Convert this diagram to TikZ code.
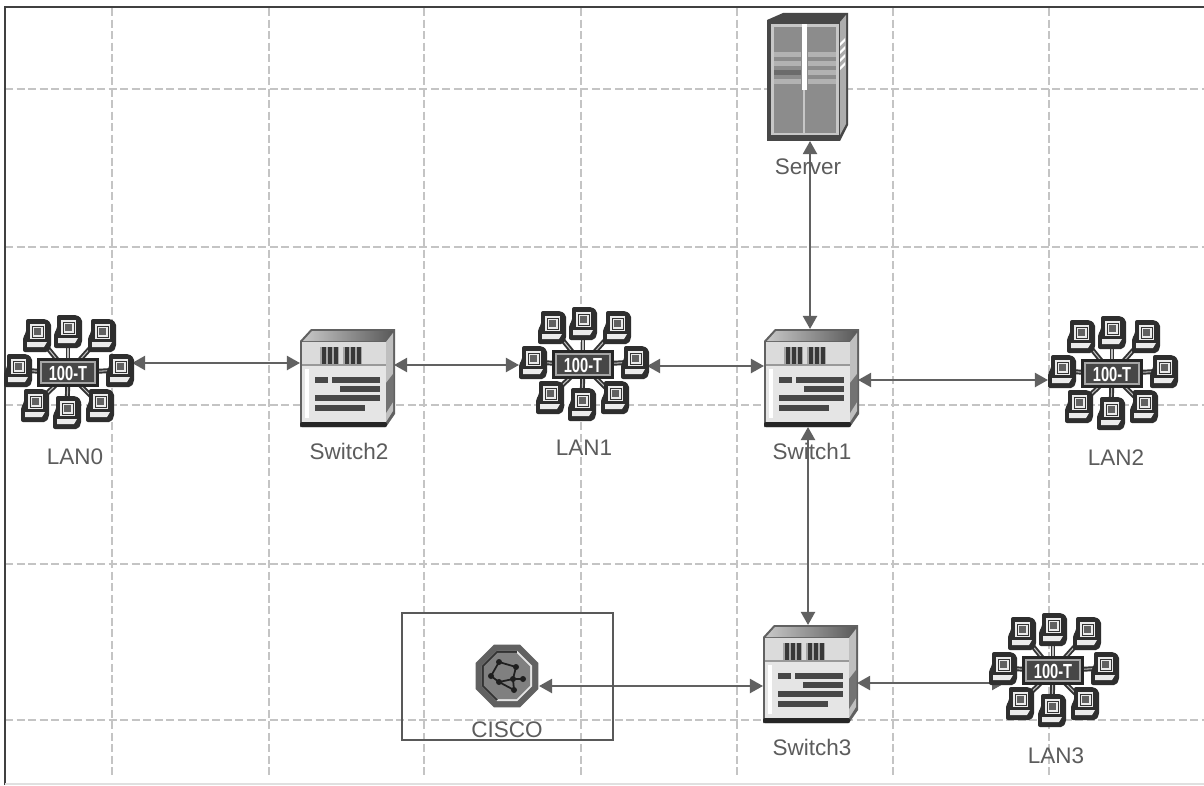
\documentclass[tikz,border=0pt]{standalone}
\usepackage{fontspec}
\setmainfont{Liberation Sans}
\usepackage{xcolor}
\usetikzlibrary{arrows.meta, calc}
\definecolor{gridgray}{gray}{0.77}
\definecolor{linegray}{gray}{0.38}
\definecolor{textgray}{gray}{0.36}
\tikzset{
    device/.style={inner sep=0pt, outer sep=0pt},
    lanbox/.style={device, minimum width=1.28cm, minimum height=1.00cm},
    switchbox/.style={device, minimum width=0.94cm, minimum height=0.98cm},
    serverbox/.style={device, minimum width=0.81cm, minimum height=1.28cm},
    routerbox/.style={device, minimum width=0.64cm, minimum height=0.64cm},
    devicelabel/.style={inner sep=0pt, text=textgray, font=\fontsize{6.4}{7}\selectfont},
    link/.style={draw=linegray, line width=0.6pt, {Triangle[length=0.13cm, width=0.14cm]}-{Triangle[length=0.13cm, width=0.14cm]}},
    gridline/.style={draw=gridgray, line width=0.4pt, dash pattern=on 0.08cm off 0.035cm},
    lanicon/.pic={
        % Spokes
        \foreach \dx/\dy in {-31/-38,0/-42,34/-38,-50/-3,52/-3,-33/32,-1/39,32/32} {
            \draw[black!80, line width=1.4pt] (0,0) -- (\dx,\dy);
            \draw[black!25, line width=0.3pt] (0,0) -- (\dx,\dy);
        }
        % Eight computers
        \foreach \dx/\dy in {-31/-38,0/-42,34/-38,-50/-3,52/-3,-33/32,-1/39,32/32} {
            \begin{scope}[shift={(\dx,\dy)}]
                \fill[black!82, rounded corners=0.02cm] (-11,-16) -- (9,-16) -- (14,-12) -- (14,12) -- (11,17) -- (-14,17) -- (-14,2) -- (-11,-2) -- cycle;
                \fill[black!8] (-7,-11) rectangle (8,4);
                \fill[black!62] (-3,-7) rectangle (4,0);
                \draw[black!80, line width=0.25pt] (-5,-9) rectangle (6,2);
                \fill[black!8] (-10,7) -- (10,7) -- (7,12) -- (-10,12) -- cycle;
            \end{scope}
        }
        % Hub
        \fill[black!85] (-31,-15) rectangle (31,14);
        \draw[black!35, line width=0.3pt] (-27,-11) rectangle (27,10);
        \fill[black!72] (-26,-10) rectangle (26,9);
        \node[inner sep=0pt, text=white, font=\bfseries\fontsize{5.8}{6}\selectfont] (-label) at (0,0) {\scalebox{0.72}[1]{100-T}};
    },
    switchicon/.pic={
        % Body with top and side faces
        \fill[black!62] (-47,-37) -- (-36,-49) -- (48,-49) -- (48,36) -- (39,49) -- (-47,49) -- cycle;
        \shade[left color=black!22, right color=black!65] (-44,-37) -- (-35,-47) -- (46,-47) -- (39,-37) -- cycle;
        \fill[black!14] (-45,-36) rectangle (39,-13);
        \fill[black!10] (-45,-13) rectangle (39,44);
        \fill[white] (-42,-9) rectangle (-38,40);
        \fill[black!25] (39,-36) -- (46,-45) -- (46,33) -- (39,44) -- cycle;
        \fill[black!55] (39,5) -- (46,-4) -- (46,24) -- (39,35) -- cycle;
        \fill[black!85, rounded corners=0.02cm] (-47,44) rectangle (40,49);
        \draw[black!40, line width=0.3pt] (-45,-13) -- (39,-13);
        % Port windows
        \foreach \bx in {-27,-4} {
            \fill[black!35] (\bx,-31) rectangle ++(19,17);
            \foreach \k in {2,8,14} {
                \fill[black!78] ({\bx+\k},-31) rectangle ++(3.5,17);
            }
        }
        % Port rows
        \foreach \ax/\bx/\dy in {-32/-19/2,-15/33/2,-7/33/11,-32/33/20,-32/18/30} {
            \fill[black!72] (\ax,\dy-3) rectangle (\bx,\dy+3);
        }
    },
    servericon/.pic={
        % Cabinet
        \fill[black!72] (-40,-57) -- (-24,-64) -- (41,-64) -- (41,48) -- (33,64) -- (-40,64) -- cycle;
        \fill[black!32] (33,-55) -- (39,-62) -- (39,47) -- (33,58) -- cycle;
        \fill[black!22] (-36,-53) rectangle (32,58);
        \fill[black!45] (-33,-50) rectangle (29,56);
        \draw[black!22, line width=0.3pt] (-3,13) -- (-3,56);
        \fill[white] (-5,-53) rectangle (0,13);
        % Drive bays
        \foreach \dy in {-25,-16,-7,2} {
            \fill[black!30] (-33,\dy) rectangle (-6,\dy+5);
            \fill[black!30] (1,\dy) rectangle (29,\dy+5);
        }
        \fill[black!58] (-33,-7) rectangle (-6,-2);
        % Side notches
        \foreach \dy in {-34,-26,-18,-10} {
            \fill[white] (33,\dy) -- (38,\dy-5) -- (38,\dy-2) -- (33,\dy+3) -- cycle;
        }
    },
    routericon/.pic={
        % Octagon rings
        \fill[black!62] (22.5:34) \foreach \a in {67.5,112.5,...,337.5} { -- (\a:34) } -- cycle;
        \draw[black!10, line width=0.6pt] (22.5:26) \foreach \a in {67.5,112.5,...,337.5} { -- (\a:26) } -- cycle;
        \draw[black!80, line width=0.6pt] (112.5:26) -- (157.5:26) -- (202.5:26) -- (247.5:26) -- (292.5:26);
        \fill[black!50] (22.5:25) \foreach \a in {67.5,112.5,...,337.5} { -- (\a:25) } -- cycle;
        % Network mesh
        \draw[black!88, line width=0.5pt] (-8,-14) -- (9,-9) -- (6,3) -- (16,3) (-8,-14) -- (-16,0) -- (-8,6) -- (6,3) -- (7,14) -- (-8,6);
        \foreach \dx/\dy in {-8/-14,9/-9,-16/0,-8/6,6/3,16/3,7/14} {
            \fill[black!88] (\dx,\dy) circle (3);
        }
    }
}
\begin{document}
\begin{tikzpicture}[x=0.01cm, y=-0.01cm]
    \useasboundingbox (0,0) rectangle (1204,785);
    \fill[white] (0,0) rectangle (1204,785);

    % ---------------- grid ----------------
    \foreach \gx in {112,269,424,581,737,893,1049} {
        \draw[gridline] (\gx,8) -- (\gx,776);
    }
    \foreach \gy in {89,247,405,564,720} {
        \draw[gridline] (5,\gy) -- (1204,\gy);
    }

    % ---------------- frame ----------------
    \draw[black!75, line width=0.7pt] (5,785) -- (5,7) -- (1204,7);
    \draw[black!12, line width=0.3pt] (5,784) -- (1204,784);

    % ---------------- devices ----------------
    \node[lanbox] (lanZero) at (68,373) {};
    \node[lanbox] (lanOne) at (583,365) {};
    \node[lanbox] (lanTwo) at (1112,374) {};
    \node[lanbox] (lanThree) at (1053,671) {};
    \node[switchbox] (switchTwo) at (347,378) {};
    \node[switchbox] (switchOne) at (811,378) {};
    \node[switchbox] (switchThree) at (810,674) {};
    \node[serverbox] (serverBox) at (807,77) {};
    \node[routerbox] (ciscoBox) at (507,676) {};

    % ---------------- links ----------------
    \coordinate (lanThreeEnd) at (1005,683);
    \draw[link] (lanZero.east |- 0,363) -- (switchTwo.west |- 0,363);
    \draw[link] (switchTwo.east |- 0,365) -- (lanOne.west |- 0,365);
    \draw[link] (lanOne.east |- 0,366) -- (switchOne.west |- 0,366);
    \draw[link] (switchOne.east |- 0,380) -- (lanTwo.west |- 0,380);
    \draw[link] (serverBox.south -| 810,0) -- (switchOne.north -| 810,0);
    \draw[link] (switchOne.south -| 808,0) -- (switchThree.north -| 808,0);
    \draw[link] (ciscoBox.east |- 0,686) -- (switchThree.west |- 0,686);
    \draw[link] (switchThree.east |- 0,683) -- (lanThreeEnd);

    % ---------------- icons ----------------
    \foreach \n in {lanZero,lanOne,lanTwo,lanThree} {
        \pic at (\n) {lanicon};
    }
    \foreach \n in {switchTwo,switchOne,switchThree} {
        \pic at (\n) {switchicon};
    }
    \pic at (serverBox) {servericon};
    \pic at (ciscoBox) {routericon};

    % Box round the router
    \node[draw=black!65, line width=0.45pt, minimum width=2.11cm, minimum height=1.27cm, inner sep=0pt] (ciscoFrame) at (507.5,676.5) {};

    % ---------------- labels ----------------
    \node[devicelabel] (lanZeroLabel) at (75,457) {LAN0};
    \node[devicelabel] (lanOneLabel) at (584,448) {LAN1};
    \node[devicelabel] (lanTwoLabel) at (1116,458) {LAN2};
    \node[devicelabel] (lanThreeLabel) at (1056,756) {LAN3};
    \node[devicelabel] (switchTwoLabel) at (349,451) {Switch2};
    \node[devicelabel] (switchOneLabel) at (812,451) {Switch1};
    \node[devicelabel] (switchThreeLabel) at (812,747) {Switch3};
    \node[devicelabel] (serverLabel) at (808,167) {Server};
    \node[devicelabel] (ciscoLabel) at (507,730) {CISCO};
\end{tikzpicture}
\end{document}
